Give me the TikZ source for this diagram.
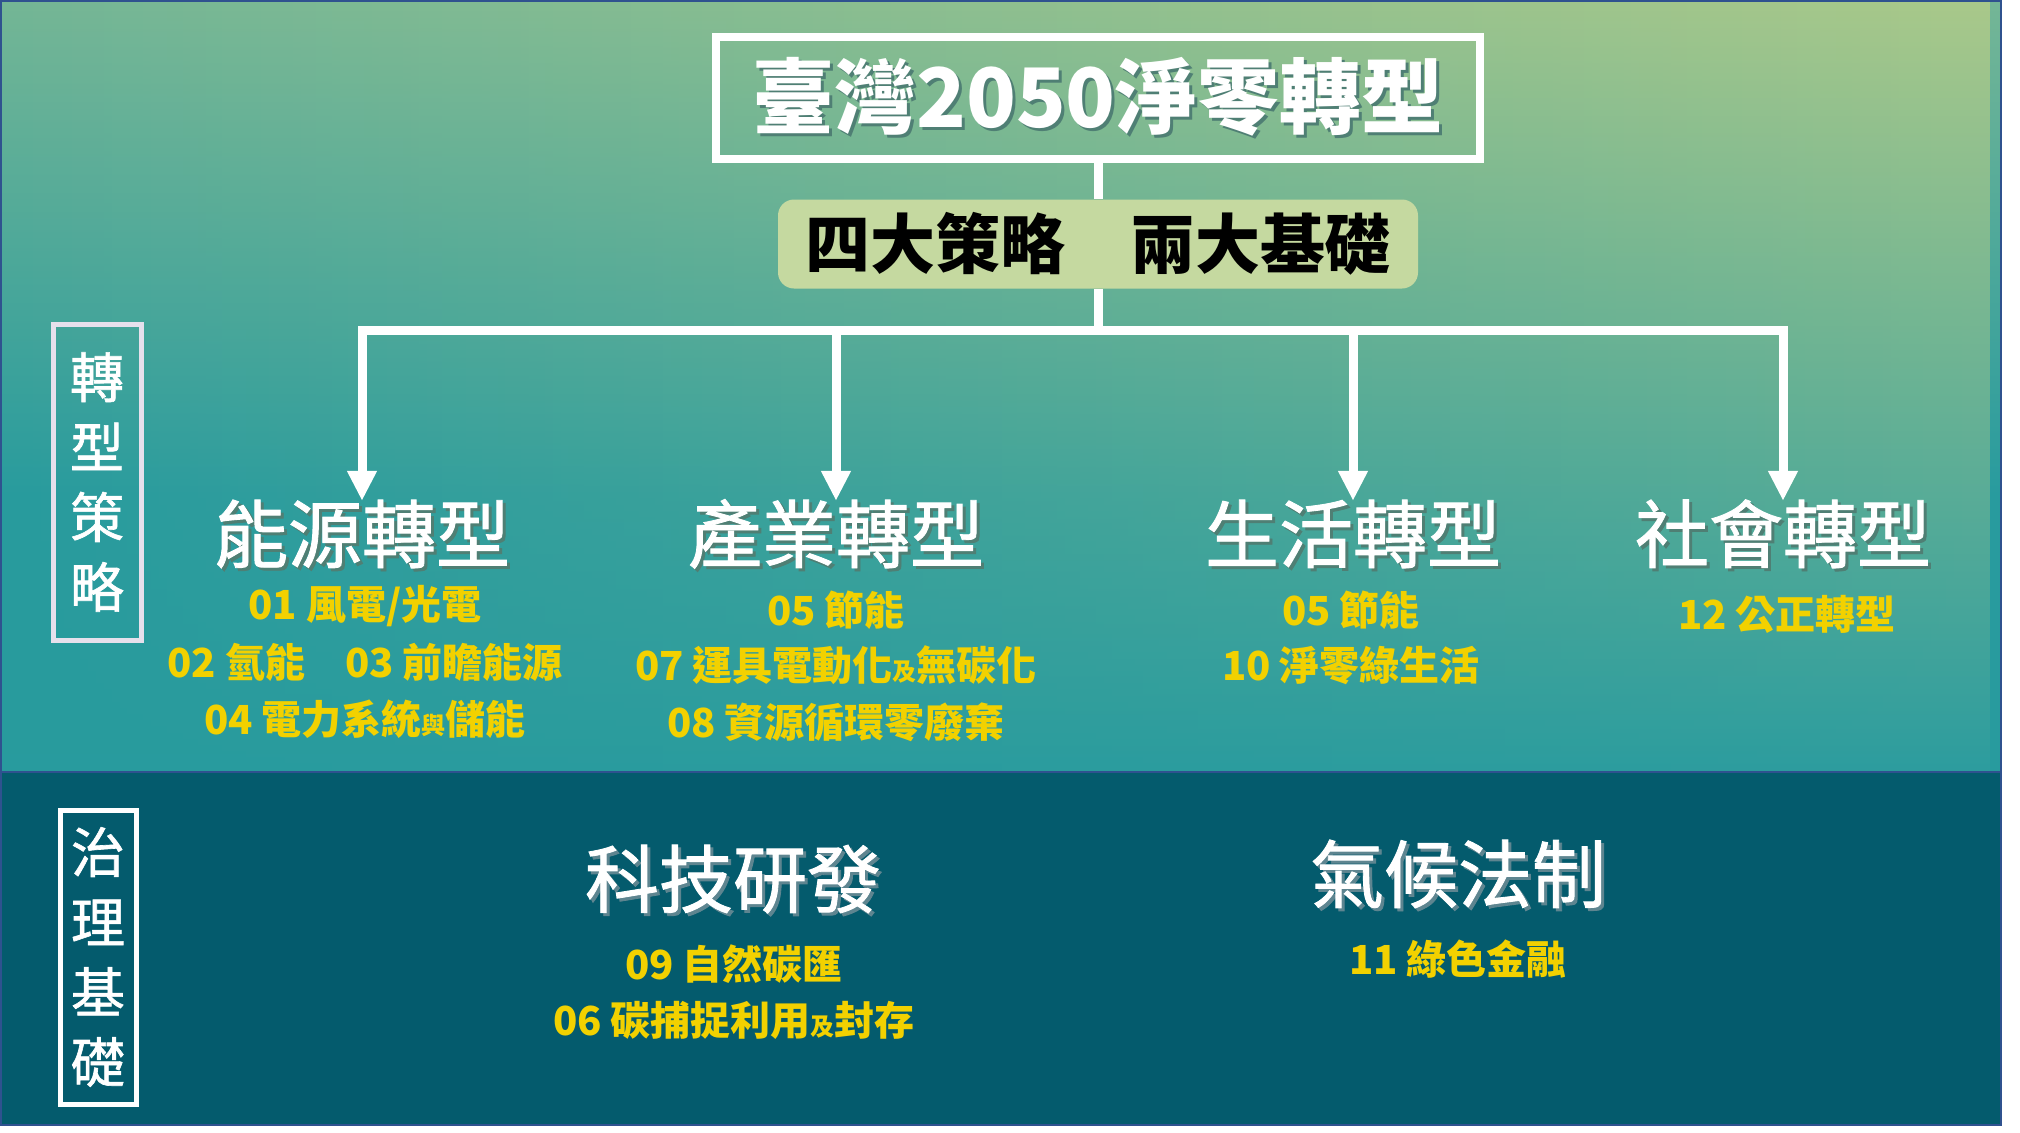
\documentclass[tikz,border=0pt]{standalone}
\usepackage{fontspec}
\setmainfont{Noto Sans CJK TC}
\newfontfamily\cjkmid{Noto Sans CJK TC}[FakeBold=1.2]
\usetikzlibrary{arrows.meta,fadings}
\tikzfading[name=fadefromleft, left color=transparent!100, right color=transparent!0]
\definecolor{gUL}{HTML}{74B696}
\definecolor{gUR}{HTML}{AAC98A}
\definecolor{gLL}{HTML}{289B9E}
\definecolor{gLR}{HTML}{2D9D9E}
\definecolor{bandc}{HTML}{045B6D}
\definecolor{framec}{HTML}{2F528F}
\definecolor{subfill}{HTML}{C5D9A0}
\definecolor{itemyellow}{HTML}{F2D100}
\definecolor{sideframe}{HTML}{E6E0EC}
\definecolor{shadowtop}{HTML}{4F7F74}
\definecolor{shadowbot}{HTML}{5E8590}
\pgfdeclareverticalshading{leftcol}{100bp}{color(0bp)=(gLL); color(43bp)=(gLL); color(75bp)=(gUL); color(100bp)=(gUL)}
\pgfdeclareverticalshading{rightcol}{100bp}{color(0bp)=(gLR); color(25bp)=(gLR); color(75bp)=(gUR); color(100bp)=(gUR)}
\newcommand\shd[2]{\leavevmode\rlap{\hspace{3pt}\raisebox{-3pt}{\textcolor{#1}{#2}}}#2}
\begin{document}
\begin{tikzpicture}[x=1pt,y=-1pt,
  conn/.style={draw=white,line width=9pt},
  arr/.style={conn,-{Triangle[width=28pt,length=30pt]}},
  head/.style={text=white,font=\cjkmid\fontsize{74}{80}\selectfont,inner sep=0pt,anchor=base,text height=61pt,text depth=7pt},
  item/.style={text=itemyellow,font=\bfseries\fontsize{40}{48}\selectfont,inner sep=0pt,anchor=base},
  sidebox/.style={draw=#1,line width=5pt,inner sep=0pt,text=white,align=center,
    font=\cjkmid\fontsize{54}{70}\selectfont},
]
\useasboundingbox (0,0) rectangle (2020,1132);
\fill[white] (0,0) rectangle (2020,1132);
% backgrounds
\shade[shading=leftcol] (1,1) rectangle (2001,772);
\shade[shading=rightcol,path fading=fadefromleft] (1,1) rectangle (2001,772);
\fill[bandc] (1,772) rectangle (2001,1125);
\draw[framec,line width=2.5pt] (1,1) rectangle (2001,1125);
\draw[framec,line width=2.5pt] (1,772) -- (2001,772);

% title and subtitle
\node[draw=white,line width=8pt,minimum width=764pt,minimum height=122pt,inner sep=0pt,
  text=white,font=\bfseries\fontsize{82}{90}\selectfont] (title) at (1098,98) {\shd{shadowtop}{臺灣2050淨零轉型}};
\node[fill=subfill,rounded corners=16pt,minimum width=640pt,minimum height=89pt,inner sep=0pt,
  text=black,font=\bfseries\fontsize{65}{70}\selectfont] (sub) at (1098,244) {四大策略　兩大基礎};

% headings
\node[head] (h1) at (362,562) {\shd{shadowtop}{能源轉型}};
\node[head] (h2) at (836,562) {\shd{shadowtop}{產業轉型}};
\node[head] (h3) at (1353,562) {\shd{shadowtop}{生活轉型}};
\node[head] (h4) at (1783,562) {\shd{shadowtop}{社會轉型}};

% connectors
\coordinate (hub) at (1098,330);
\draw[conn] (title.south) -- (sub.north);
\draw[conn] (sub.south) -- (hub);
\draw[arr] (hub) -| (h1.north);
\draw[arr] (hub) -| (h4.north);
\draw[arr] (h2.north |- hub) -- (h2.north);
\draw[arr] (h3.north |- hub) -- (h3.north);

% items
\node[item] (e1) at (365,619) {01 風電/光電};
\node[item] (e2) at (365,677) {02 氫能　03 前瞻能源};
\node[item] (e3) at (365,734) {04 電力系統{\fontsize{24}{24}\selectfont 與}儲能};
\node[item] (i1) at (836,625) {05 節能};
\node[item] (i2) at (836,680) {07 運具電動化{\fontsize{24}{24}\selectfont 及}無碳化};
\node[item] (i3) at (836,737) {08 資源循環零廢棄};
\node[item] (l1) at (1351,625) {05 節能};
\node[item] (l2) at (1351,680) {10 淨零綠生活};
\node[item] (s1) at (1787,629) {12 公正轉型};

% foundation
\node[head] (f1) at (733,907) {\shd{shadowbot}{科技研發}};
\node[head] (f2) at (1458,902) {\shd{shadowbot}{氣候法制}};
\node[item] (t1) at (734,979) {09 自然碳匯};
\node[item] (t2) at (734,1035) {06 碳捕捉利用{\fontsize{24}{24}\selectfont 及}封存};
\node[item] (c1) at (1458,974) {11 綠色金融};

% side labels
\node[sidebox=sideframe,minimum width=88pt,minimum height=316pt] (lab1) at (97,482) {轉\\型\\策\\略};
\node[sidebox=white,minimum width=76pt,minimum height=294pt] (lab2) at (98,957) {治\\理\\基\\礎};
\end{tikzpicture}
\end{document}
